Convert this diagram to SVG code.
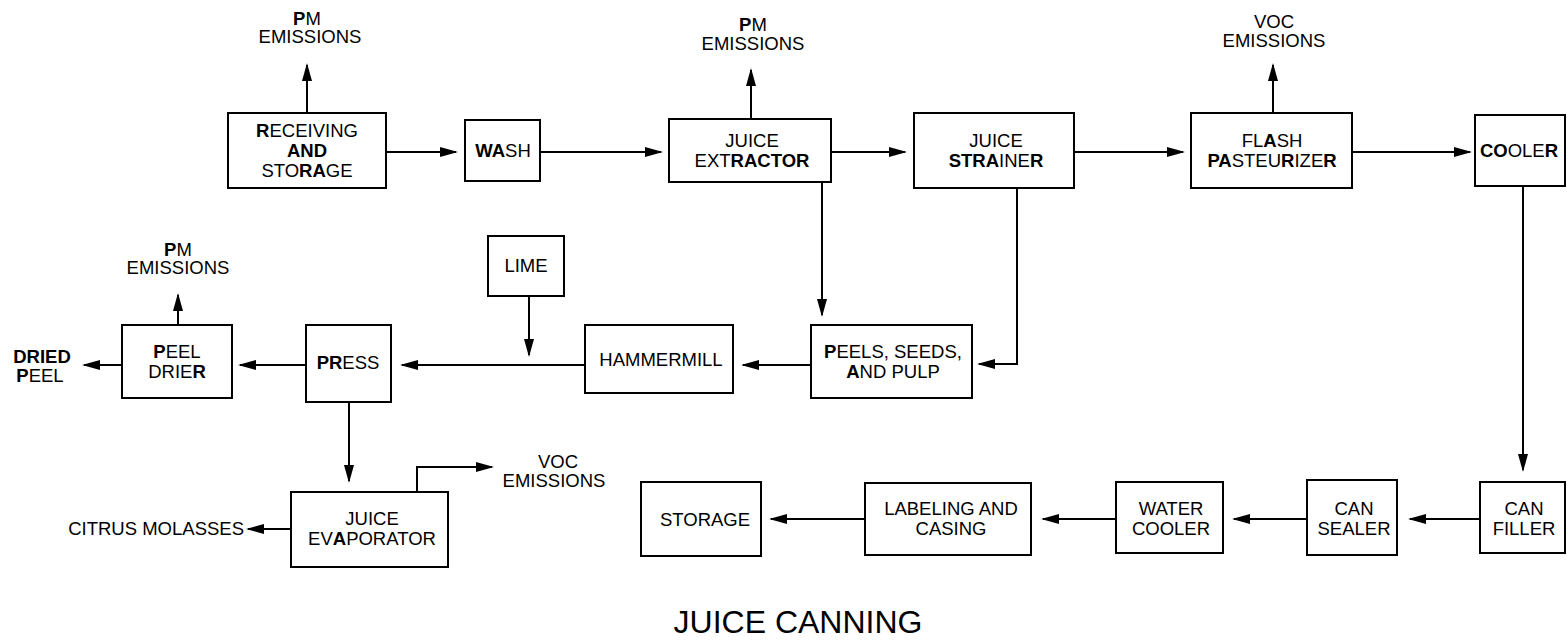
<svg xmlns="http://www.w3.org/2000/svg" width="1567" height="642" viewBox="0 0 1567 642">
<style>
.b{fill:#fff;stroke:#000;stroke-width:2}
.t{font-family:"Liberation Sans",Arial,sans-serif;font-size:18.5px;fill:#000;text-anchor:middle}
.e{text-anchor:end}
.k{font-weight:bold}
.c{fill:none;stroke:#000;stroke-width:2;marker-end:url(#ah)}
.title{font-family:"Liberation Sans",Arial,sans-serif;font-size:32px;fill:#000;text-anchor:middle}
</style>
<defs>
<marker id="ah" markerUnits="userSpaceOnUse" markerWidth="18" markerHeight="10" viewBox="0 0 18 10" refX="16" refY="5" orient="auto"><path d="M0,0 L18,5 L0,10 z" fill="#000"/></marker>
</defs>
<rect width="1567" height="642" fill="#fff"/>
<g id="connectors">
<path class="c" d="M307,113 V65"/>
<path class="c" d="M751,119 V70"/>
<path class="c" d="M1273,113 V65"/>
<path class="c" d="M178,325 V295"/>
<path class="c" d="M386,152 H456"/>
<path class="c" d="M540,152 H661"/>
<path class="c" d="M831,152 H905"/>
<path class="c" d="M1074,152 H1183"/>
<path class="c" d="M1352,152 H1470"/>
<path class="c" d="M1523,186 V470"/>
<path class="c" d="M1480,519 H1410"/>
<path class="c" d="M1307,519 H1234"/>
<path class="c" d="M1116,519 H1043"/>
<path class="c" d="M865,519 H771"/>
<path class="c" d="M822,182 V315"/>
<path class="c" d="M1017,188 V364 H979"/>
<path class="c" d="M811,365 H743"/>
<path class="c" d="M585,365 H402"/>
<path class="c" d="M529,296 V355"/>
<path class="c" d="M306,365 H240"/>
<path class="c" d="M122,365 H84"/>
<path class="c" d="M349,402 V481"/>
<path class="c" d="M417,492 V467 H492"/>
<path class="c" d="M291,529 H248"/>
</g>
<g id="receiving"><rect class="b" x="228" y="113" width="158" height="75"/><text class="t" x="307" y="137"><tspan class="k">R</tspan>ECEIVING</text><text class="t k" x="307" y="157">AND</text><text class="t" x="307" y="177">STO<tspan class="k">RA</tspan>GE</text></g>
<g id="wash"><rect class="b" x="465" y="120" width="75" height="61"/><text class="t" x="503" y="157"><tspan class="k">WA</tspan>SH</text></g>
<g id="extractor"><rect class="b" x="669" y="119" width="162" height="63"/><text class="t" x="752" y="147">JUICE</text><text class="t" x="752" y="167">EXT<tspan class="k">RACTOR</tspan></text></g>
<g id="strainer"><rect class="b" x="914" y="113" width="160" height="75"/><text class="t" x="996" y="147">JUICE</text><text class="t" x="996" y="167"><tspan class="k">STRA</tspan>INE<tspan class="k">R</tspan></text></g>
<g id="flash"><rect class="b" x="1191" y="113" width="161" height="75"/><text class="t" x="1272" y="147">FL<tspan class="k">A</tspan>SH</text><text class="t" x="1272" y="167"><tspan class="k">PA</tspan>STEU<tspan class="k">R</tspan>IZE<tspan class="k">R</tspan></text></g>
<g id="cooler"><rect class="b" x="1475" y="115" width="90" height="71"/><text class="t" x="1519" y="157"><tspan class="k">CO</tspan>OLE<tspan class="k">R</tspan></text></g>
<g id="lime"><rect class="b" x="488" y="236" width="76" height="60"/><text class="t" x="526" y="272">LIME</text></g>
<g id="drier"><rect class="b" x="122" y="325" width="110" height="73"/><text class="t" x="177" y="358"><tspan class="k">P</tspan>EEL</text><text class="t" x="177" y="378">DRIE<tspan class="k">R</tspan></text></g>
<g id="press"><rect class="b" x="306" y="325" width="85" height="77"/><text class="t" x="348" y="369"><tspan class="k">PR</tspan>ESS</text></g>
<g id="hammermill"><rect class="b" x="585" y="325" width="148" height="68"/><text class="t" x="661" y="366">HAMMERMILL</text></g>
<g id="peels"><rect class="b" x="811" y="325" width="161" height="73"/><text class="t" x="893" y="358"><tspan class="k">P</tspan>EELS, SEEDS,</text><text class="t" x="893" y="378"><tspan class="k">A</tspan>ND PULP</text></g>
<g id="evaporator"><rect class="b" x="291" y="492" width="157" height="75"/><text class="t" x="372" y="525">JUICE</text><text class="t" x="372" y="545">EV<tspan class="k">A</tspan>PORATOR</text></g>
<g id="storage"><rect class="b" x="641" y="482" width="120" height="74"/><text class="t" x="705" y="526">STORAGE</text></g>
<g id="labeling"><rect class="b" x="865" y="483" width="166" height="72"/><text class="t" x="951" y="515">LABELING AND</text><text class="t" x="951" y="535">CASING</text></g>
<g id="watercooler"><rect class="b" x="1116" y="482" width="107" height="71"/><text class="t" x="1171" y="515">WATER</text><text class="t" x="1171" y="535">COOLER</text></g>
<g id="sealer"><rect class="b" x="1307" y="480" width="90" height="75"/><text class="t" x="1354" y="515">CAN</text><text class="t" x="1354" y="535">SEALER</text></g>
<g id="filler"><rect class="b" x="1480" y="482" width="85" height="71"/><text class="t" x="1524" y="515">CAN</text><text class="t" x="1524" y="535">FILLER</text></g>
<g id="labels">
<text class="t" x="307" y="25"><tspan class="k">P</tspan>M</text><text class="t" x="310" y="43">EMISSIONS</text>
<text class="t" x="753" y="31"><tspan class="k">P</tspan>M</text><text class="t" x="753" y="50">EMISSIONS</text>
<text class="t" x="1274" y="28">VOC</text><text class="t" x="1274" y="47">EMISSIONS</text>
<text class="t" x="178" y="256"><tspan class="k">P</tspan>M</text><text class="t" x="178" y="274">EMISSIONS</text>
<text class="t k" x="42" y="363">DRIED</text><text class="t" x="40" y="382"><tspan class="k">P</tspan>EEL</text>
<text class="t" x="558" y="468">VOC</text><text class="t" x="554" y="487">EMISSIONS</text>
<text class="t e" x="244" y="535">CITRUS MOLASSES</text>
<text class="title" x="798" y="633">JUICE CANNING</text>
</g>
</svg>
